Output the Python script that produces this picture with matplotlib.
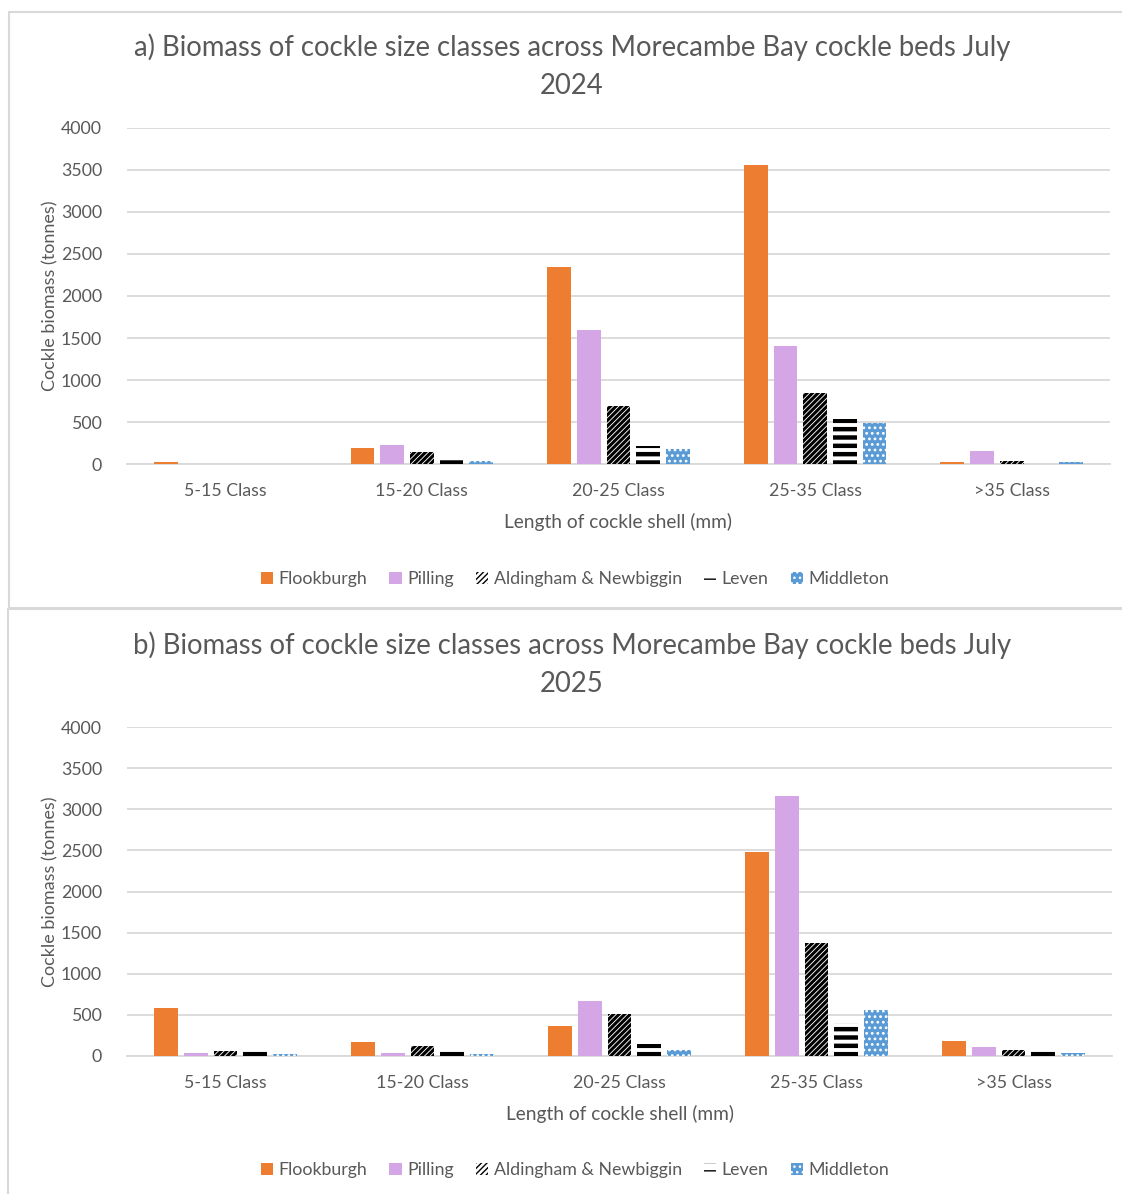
import numpy as np
import matplotlib
matplotlib.use("Agg")
import matplotlib.pyplot as plt
from matplotlib.patches import Rectangle

plt.rcParams['font.family'] = ['Lato', 'DejaVu Sans']

# size classes and beds
size_classes = ['5-15 Class', '15-20 Class', '20-25 Class', '25-35 Class', '>35 Class']
beds = ['Flookburgh', 'Pilling', 'Aldingham & Newbiggin', 'Leven', 'Middleton']

# biomass (tonnes), July 2024
flookburgh_2024 = [25, 190, 2350, 3560, 25]
pilling_2024 = [0, 225, 1590, 1400, 155]
aldingham_2024 = [0, 145, 690, 845, 35]
leven_2024 = [0, 70, 220, 535, 0]
middleton_2024 = [0, 35, 180, 490, 25]

# biomass (tonnes), July 2025
flookburgh_2025 = [580, 170, 365, 2480, 180]
pilling_2025 = [35, 35, 670, 3160, 110]
aldingham_2025 = [60, 120, 510, 1370, 70]
leven_2025 = [70, 70, 140, 400, 70]
middleton_2025 = [30, 25, 75, 560, 35]

W, H = 1122, 1194
fig = plt.figure(figsize=(W / 100, H / 100), dpi=100)

grey_txt = '#595959'
grid_col = '#D9D9D9'

# (face, hatch colour, hatch, hatch width)
styles = [
    ('#ED7D31', '#ED7D31', None, 1.0),
    ('#D5A6E6', '#D5A6E6', None, 1.0),
    ('white', 'black', '//////', 2.2),
    ('white', 'black', '--', 3.2),
    ('#5B9BD5', 'white', '...', 1.2),
]


def px_axes(left, top, right, bottom):
    return fig.add_axes([left / W, 1 - bottom / H, (right - left) / W, (bottom - top) / H])


def draw_panel(ax, series, title, title_y):
    x = np.arange(len(size_classes))
    bw = 0.121
    step = 0.151
    handles = []
    for i, (vals, name) in enumerate(zip(series, beds)):
        face, hcol, hatch, hlw = styles[i]
        with plt.rc_context({'hatch.linewidth': hlw}):
            b = ax.bar(x + (i - 2) * step, vals, width=bw, color=face,
                       edgecolor=hcol, hatch=hatch, linewidth=0, label=name, zorder=3)
        handles.append(b)
    ax.set_xlim(-0.5, 4.5)
    ax.set_ylim(0, 4000)
    ax.set_yticks(np.arange(0, 4001, 500))
    ax.set_xticks(x)
    ax.set_xticklabels(size_classes)
    ax.grid(axis='y', color=grid_col, linewidth=1.3, zorder=0)
    for s in ['top', 'right', 'left']:
        ax.spines[s].set_visible(False)
    ax.spines['bottom'].set_color(grid_col)
    ax.spines['bottom'].set_linewidth(1.3)
    ax.tick_params(axis='both', length=0, labelsize=12.8, colors=grey_txt)
    ax.tick_params(axis='x', pad=14)
    ax.tick_params(axis='y', pad=18)
    ax.set_ylabel('Cockle biomass (tonnes)', fontsize=13, color=grey_txt, labelpad=2)
    ax.set_xlabel('Length of cockle shell (mm)', fontsize=13.8, color=grey_txt, labelpad=10)
    fig.text(572 / W, 1 - title_y / H, title, ha='center', va='center',
             fontsize=19.8, color=grey_txt, linespacing=1.6)
    return handles


# panel a
ax1 = px_axes(127, 128, 1110, 464)
h1 = draw_panel(ax1, [flookburgh_2024, pilling_2024, aldingham_2024, leven_2024, middleton_2024],
                'a) Biomass of cockle size classes across Morecambe Bay cockle beds July\n2024', 66)
fig.legend(h1, beds, loc='center', bbox_to_anchor=(575 / W, 1 - 579 / H), ncol=5,
           frameon=False, fontsize=12.8, handlelength=0.7, handleheight=0.7,
           handletextpad=0.3, columnspacing=1.25, labelcolor=grey_txt)

# panel b
ax2 = px_axes(127, 727, 1112, 1056)
h2 = draw_panel(ax2, [flookburgh_2025, pilling_2025, aldingham_2025, leven_2025, middleton_2025],
                'b) Biomass of cockle size classes across Morecambe Bay cockle beds July\n2025', 664)
fig.legend(h2, beds, loc='center', bbox_to_anchor=(575 / W, 1 - 1170 / H), ncol=5,
           frameon=False, fontsize=12.8, handlelength=0.7, handleheight=0.7,
           handletextpad=0.3, columnspacing=1.25, labelcolor=grey_txt)

# chart borders
fig.patches.append(Rectangle((9 / W, 1 - 608 / H), 1.2, (608 - 12) / H, transform=fig.transFigure,
                             fill=False, edgecolor=grid_col, linewidth=1.5))
fig.patches.append(Rectangle((8 / W, -0.1), 1.2, 0.1 + (1194 - 609) / H, transform=fig.transFigure,
                             fill=False, edgecolor=grid_col, linewidth=1.5))

fig.savefig('out.png', dpi=100)
